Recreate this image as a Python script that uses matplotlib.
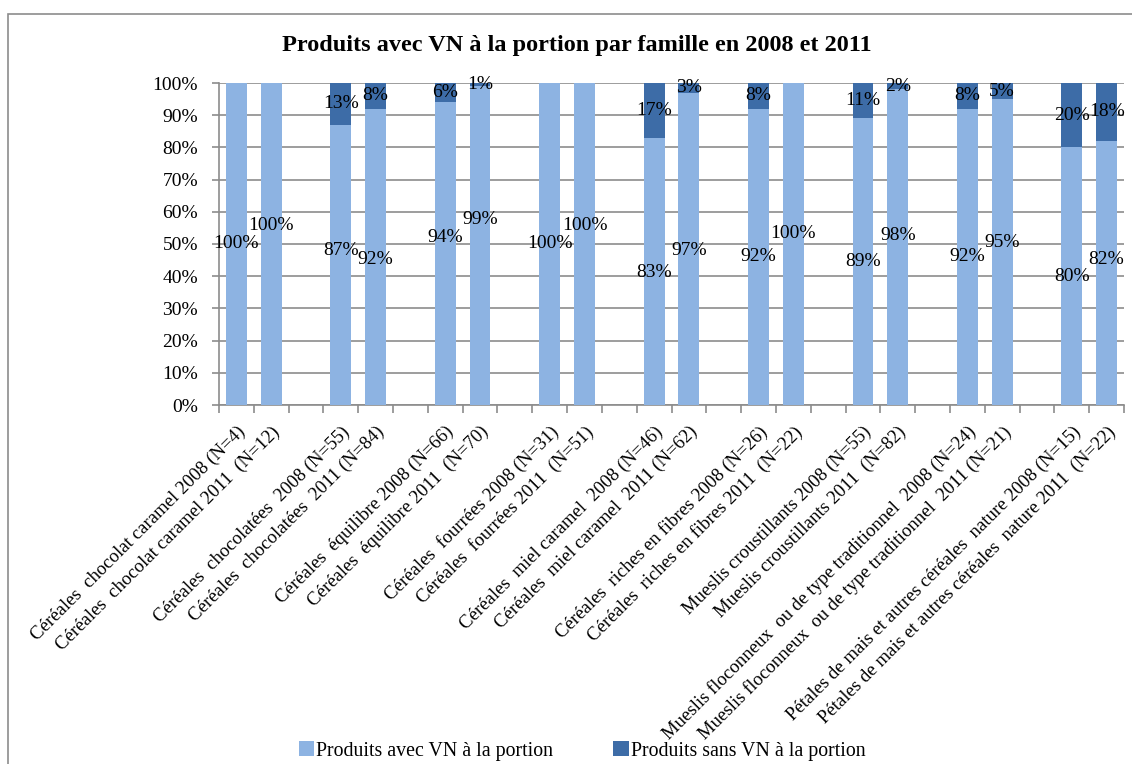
import matplotlib
matplotlib.use("Agg")
import matplotlib.pyplot as plt
from matplotlib.patches import Rectangle

categories = [
    "Céréales  chocolat caramel 2008 (N=4)",
    "Céréales  chocolat caramel 2011  (N=12)",
    "Céréales  chocolatées  2008 (N=55)",
    "Céréales  chocolatées  2011 (N=84)",
    "Céréales  équilibre 2008 (N=66)",
    "Céréales  équilibre 2011  (N=70)",
    "Céréales  fourrées 2008 (N=31)",
    "Céréales  fourrées 2011  (N=51)",
    "Céréales  miel caramel  2008 (N=46)",
    "Céréales  miel caramel  2011 (N=62)",
    "Céréales  riches en fibres 2008 (N=26)",
    "Céréales  riches en fibres 2011  (N=22)",
    "Mueslis croustillants 2008 (N=55)",
    "Mueslis croustillants 2011  (N=82)",
    "Mueslis floconneux  ou de type traditionnel  2008 (N=24)",
    "Mueslis floconneux  ou de type traditionnel  2011 (N=21)",
    "Pétales de mais et autres céréales  nature 2008 (N=15)",
    "Pétales de mais et autres céréales  nature 2011  (N=22)",
]
avec_vn = [100, 100, 87, 92, 94, 99, 100, 100, 83, 97, 92, 100, 89, 98, 92, 95, 80, 82]
sans_vn = [0, 0, 13, 8, 6, 1, 0, 0, 17, 3, 8, 0, 11, 2, 8, 5, 20, 18]
series_names = ["Produits avec VN à la portion", "Produits sans VN à la portion"]
# label placement nudges (percentage points) for light-segment labels, as seen in the picture
label_nudge = [0, 5.6, 4.5, -0.7, 4.9, 8, 0, 5.6, -0.5, -0.5, 0, 3.4, 0, 3.5, 0, 3.1, 0, 4.3]

light = "#8DB3E2"
dark = "#3D6CA7"
grid_c = "#8C8C8C"

plt.rcParams['font.family'] = ['Liberation Serif', 'DejaVu Serif']

W, H = 1132, 764
fig = plt.figure(figsize=(W / 100, H / 100), dpi=100)

# outer chart frame
fig.patches.append(Rectangle((8 / W, -0.1), 1.2, 1 - 14 / H + 0.1, transform=fig.transFigure,
                             fill=False, edgecolor="#8C8C8C", linewidth=1.2))

left, right, top, bottom = 219, 1124, 83, 405
ax = fig.add_axes([left / W, 1 - bottom / H, (right - left) / W, (bottom - top) / H])

n_groups = len(categories) // 2
xpos = []
for g in range(n_groups):
    xpos += [3 * g, 3 * g + 1]

ax.bar(xpos, avec_vn, width=0.6, color=light, zorder=3, label=series_names[0])
ax.bar(xpos, sans_vn, width=0.6, bottom=avec_vn, color=dark, zorder=3, label=series_names[1])

ax.set_xlim(-0.5, 3 * n_groups - 1.5)
ax.set_ylim(0, 100)
ax.set_yticks(range(0, 101, 10))
ax.set_yticklabels([f"{v}%" for v in range(0, 101, 10)], fontsize=14)
ax.yaxis.grid(True, color=grid_c, linewidth=1.2, zorder=0)
ax.tick_params(axis='y', length=5, color=grid_c, width=1.2, pad=10)

ax.set_xticks(xpos)
ax.set_xticklabels(categories, rotation=45, ha='right', rotation_mode='anchor', fontsize=13.5)
ax.tick_params(axis='x', which='major', length=0, pad=13)
ax.set_xticks([b - 0.5 for b in range(0, 3 * n_groups)], minor=True)
ax.tick_params(axis='x', which='minor', length=6, color=grid_c, width=1.2)

for s in ['top', 'right']:
    ax.spines[s].set_visible(False)
for s in ['left', 'bottom']:
    ax.spines[s].set_color(grid_c)
    ax.spines[s].set_linewidth(1.2)

for x, a, b, nud in zip(xpos, avec_vn, sans_vn, label_nudge):
    ax.text(x, a / 2 + nud, f"{a}%", ha='center', va='center', fontsize=14, zorder=5)
    if b > 0:
        ax.text(x, a + b / 2, f"{b}%", ha='center', va='center', fontsize=14, zorder=5)

fig.text(577 / W, 1 - 45 / H, "Produits avec VN à la portion par famille en 2008 et 2011",
         ha='center', va='center', fontsize=17.5, fontweight='bold')

handles, labels = ax.get_legend_handles_labels()
fig.legend(handles, labels, loc='center', bbox_to_anchor=(582 / W, 1 - 751 / H), ncol=2,
           frameon=False, fontsize=14.3, handlelength=0.8, handleheight=0.8, handletextpad=0.1,
           columnspacing=3.0, borderpad=0)

fig.savefig("out.png", dpi=100)
